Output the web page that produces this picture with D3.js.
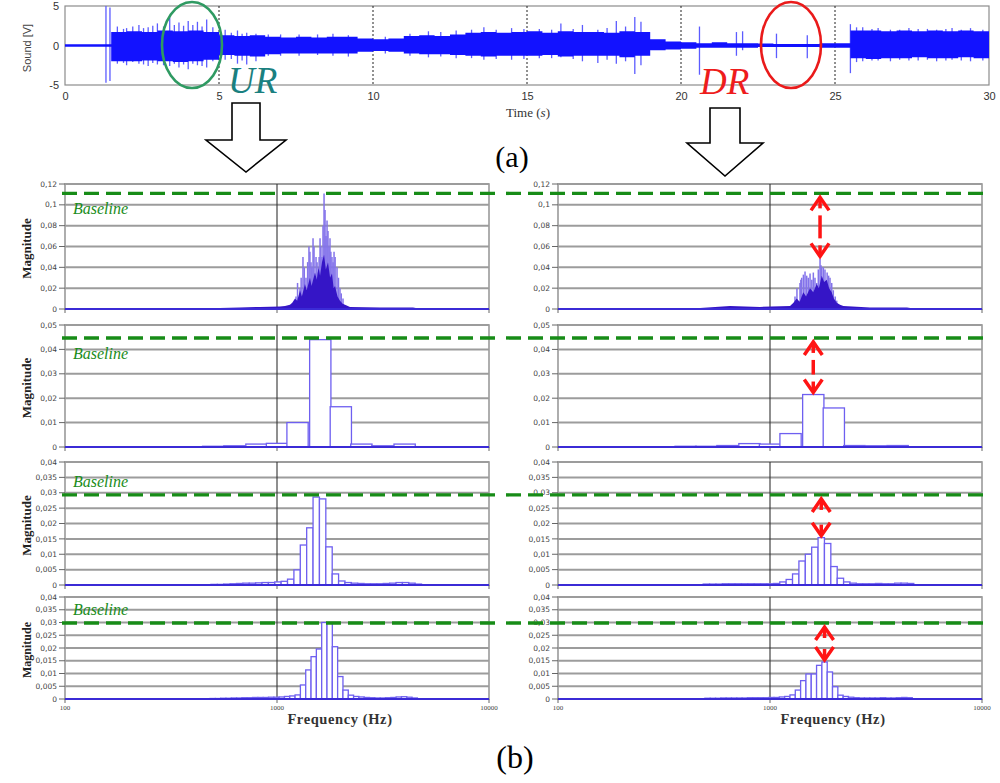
<!DOCTYPE html>
<html>
<head>
<meta charset="utf-8">
<script src="https://cdn.jsdelivr.net/npm/d3@7.9.0/dist/d3.min.js"></script>
<style>
  body { margin: 0; background: #fff; }
  svg { display: block; }
</style>
</head>
<body>
<svg id="fig" width="1000" height="783"></svg>
<script>
/* ---------- data ---------- */

// (a) sound signal: band envelope every 0.5 s, plus single spikes [t, up, down]
const waveT = [0,0.5,1,1.5,2,2.5,3,3.5,4,4.5,5,5.5,6,6.5,7,7.5,8,8.5,9,9.5,10,10.5,11,11.5,12,12.5,13,13.5,14,14.5,15,
  15.5,16,16.5,17,17.5,18,18.5,19,19.5,20,20.5,21,21.5,22,22.5,23,23.5,24,24.5,25,25.5,26,26.5,27,27.5,28,28.5,29,29.5,30];
const waveUp = [0.15,0.15,0.15,1.7,1.8,1.7,1.9,1.8,1.9,1.7,1.3,1.2,1.3,1.1,1.0,1.1,1.0,1.1,1.1,0.9,0.8,0.9,1.2,1.3,1.2,1.4,1.6,1.7,1.6,1.7,1.8,
  1.6,1.8,1.7,1.7,1.6,1.8,1.7,0.8,0.5,0.4,0.3,0.4,0.3,0.3,0.25,0.2,0.2,0.2,0.3,0.3,1.9,1.9,1.8,1.9,1.8,1.9,1.8,1.9,1.8,1.8];
const waveDown = [0.15,0.15,0.15,2.0,2.0,1.9,2.0,2.1,2.0,1.8,1.2,1.3,1.4,1.1,1.0,1.0,1.0,1.0,1.0,0.8,0.7,0.8,1.0,1.1,1.1,1.2,1.3,1.4,1.3,1.3,1.3,
  1.2,1.4,1.3,1.3,1.3,1.5,1.3,0.6,0.5,0.4,0.3,0.3,0.3,0.3,0.2,0.2,0.2,0.2,0.3,0.3,1.6,1.7,1.6,1.6,1.5,1.6,1.6,1.5,1.6,1.6];
const waveSpikes = [
  [1.33,5.0,4.7],[1.46,4.8,4.5],[1.7,2.4,2.3],[1.9,2.1,2.2],[2.0,2.2,2.5],[2.2,2.4,2.1],[2.4,2.6,2.3],[2.55,2.2,2.4],
  [2.7,2.3,2.6],[2.85,2.5,2.2],[3.0,2.8,2.4],[3.2,2.4,2.5],[3.4,3.5,2.6],[3.55,2.6,2.3],[3.7,2.9,2.8],[3.85,2.5,2.4],
  [4.0,3.1,3.0],[4.15,2.6,2.3],[4.3,3.0,2.5],[4.45,2.4,2.6],[4.6,3.3,2.8],[4.8,2.3,2.0],[5.2,2.0,1.8],[5.4,1.6,1.7],
  [5.6,1.9,2.3],[5.75,1.5,1.9],[5.9,1.6,2.4],[6.2,1.5,2.0],[6.6,1.4,1.3],[7.0,1.4,1.3],[7.6,1.4,1.3],[8.2,1.4,1.2],
  [8.7,1.5,1.3],[9.2,1.3,1.4],[10.4,1.1,1.0],[11.2,1.5,1.3],[11.8,1.8,1.5],[12.2,1.7,1.4],[12.7,1.9,1.6],[13.2,2.0,1.6],
  [13.6,2.3,1.8],[14.0,2.0,1.7],[14.5,2.2,1.8],[14.9,2.1,1.7],[15.4,2.1,1.6],[15.8,2.0,1.6],[16.1,2.8,1.5],[16.5,2.1,1.7],
  [16.8,2.6,2.0],[17.3,2.0,2.2],[17.6,2.2,1.8],[17.9,3.1,2.3],[18.2,2.4,2.0],[18.5,3.6,3.6],[18.7,3.0,2.5],[20.6,2.4,3.7],
  [21.8,1.7,1.3],[22.0,1.8,0.6],[23.1,1.5,1.6],[24.1,1.3,1.6],[25.5,2.7,3.5],[25.7,2.3,2.1],[25.9,2.3,2.0],[26.2,2.1,1.9],
  [26.4,2.2,1.9],[26.8,2.0,2.0],[27.1,2.0,1.8],[27.4,2.2,1.9],[27.7,2.1,1.9],[28.0,2.1,1.8],[28.3,2.0,2.0],[28.6,2.1,1.9],
  [28.8,2.2,1.8],[29.1,2.0,1.9],[29.4,2.2,2.0],[29.8,2.0,1.9]
];
const timeTicks = [0,5,10,15,20,25,30];
const soundTicks = [-5,0,5];

// (b) row 1: FFT spectra (Hz, magnitude)
const ur1SpikeF = [1229,1250,1284,1300,1326,1345,1370,1395,1415,1430,1447,1462,1479,1495,1528,1545,1561,1580,1596,1612,
  1631,1648,1667,1685,1703,1722,1740,1760,1778,1795,1817,1838,1858,1880,1919,1950,1982,2010,2048];
const ur1SpikeM = [0.012,0.025,0.02,0.03,0.05,0.04,0.03,0.045,0.06,0.055,0.045,0.04,0.068,0.06,0.05,0.045,0.035,0.05,0.068,0.06,
  0.05,0.08,0.111,0.095,0.07,0.085,0.075,0.06,0.068,0.055,0.05,0.045,0.055,0.05,0.04,0.03,0.02,0.015,0.01];
const ur1CoreF = [360,483,669,832,1033,1091,1151,1180,1216,1245,1284,1310,1355,1380,1431,1455,1511,1540,1570,1596,1630,1667,
  1700,1740,1780,1817,1850,1878,1930,1982,2040,2093,2210,3061,4380,4726];
const ur1CoreM = [0.0005,0.0008,0.0015,0.002,0.0025,0.003,0.004,0.006,0.01,0.008,0.018,0.012,0.024,0.018,0.03,0.022,0.035,0.028,
  0.04,0.032,0.045,0.052,0.038,0.045,0.03,0.034,0.02,0.022,0.012,0.008,0.005,0.004,0.002,0.0015,0.0015,0.0003];
const dr1SpikeF = [1312,1340,1385,1398,1411,1437,1463,1490,1516,1545,1575,1601,1630,1661,1690,1722,1740,1754,1785,1817,1860,
  1890,1919,1955,1989,2030,2064];
const dr1SpikeM = [0.012,0.02,0.025,0.028,0.03,0.033,0.036,0.032,0.03,0.034,0.028,0.035,0.03,0.025,0.038,0.0486,0.042,0.04,0.04,
  0.038,0.035,0.032,0.03,0.025,0.018,0.012,0.008];
const dr1CoreF = [244,468,648,897,1243,1290,1336,1380,1436,1480,1544,1600,1661,1700,1754,1800,1851,1900,1954,2000,2064,2140,
  2218,2963,4428,4831];
const dr1CoreM = [0.0005,0.001,0.003,0.002,0.003,0.006,0.01,0.007,0.016,0.012,0.02,0.016,0.024,0.02,0.032,0.026,0.028,0.02,
  0.016,0.01,0.006,0.004,0.003,0.0015,0.0015,0.0003];

// row 2: 1/3 octave bands (centre Hz, magnitude)
const ur2Centres = [500,630,800,1000,1250,1600,2000,2500,3150,4000];
const ur2Mag = [0.0003,0.0005,0.0012,0.0015,0.010,0.044,0.0165,0.0012,0.0005,0.0012];
const dr2Centres = [400,500,630,800,1000,1250,1600,2000,2500,3150,4000];
const dr2Mag = [0.0003,0.0003,0.0006,0.0014,0.0012,0.0055,0.0215,0.016,0.0006,0.0005,0.0006];

// row 3: 1/10 octave bands, from a first band edge (Hz)
const ur3FirstEdge = 488;
const ur3Mag = [0.0002,0.0002,0.0003,0.0004,0.0005,0.0006,0.0006,0.0007,0.0008,0.0008,0.001,0.0012,0.0019,0.0049,0.013,0.0186,
  0.0286,0.028,0.0124,0.0036,0.0013,0.0008,0.0006,0.0005,0.0004,0.0004,0.0004,0.0005,0.0006,0.0008,0.0008,0.0006,0.0003];
const dr3FirstEdge = 484;
const dr3Mag = [0.0003,0.0003,0.0003,0.0004,0.0004,0.0004,0.0004,0.0004,0.0004,0.0004,0.0004,0.0005,0.001,0.0018,0.0036,0.0078,
  0.0100,0.0123,0.0154,0.0135,0.006,0.0022,0.001,0.0006,0.0004,0.0004,0.0004,0.0005,0.0004,0.0004,0.0006,0.0006,0.0005];

// row 4: 1/12 octave bands
const ur4FirstEdge = 483;
const ur4Mag = [0.0002,0.0002,0.0003,0.0003,0.0004,0.0004,0.0005,0.0005,0.0006,0.0006,0.0006,0.0007,0.0007,0.0008,0.001,0.0012,
  0.0016,0.0055,0.0114,0.0166,0.0196,0.0300,0.0297,0.0205,0.0088,0.0035,0.0015,0.001,0.0008,0.0006,0.0005,0.0004,0.0004,
  0.0005,0.0006,0.0008,0.0009,0.0007,0.0004];
const dr4FirstEdge = 493;
const dr4Mag = [0.0003,0.0003,0.0003,0.0004,0.0004,0.0004,0.0004,0.0004,0.0005,0.0005,0.0005,0.0005,0.0006,0.0006,0.0008,0.001,
  0.0016,0.0035,0.0072,0.0098,0.0098,0.0132,0.0145,0.0106,0.0048,0.0015,0.001,0.0007,0.0005,0.0004,0.0004,0.0004,0.0004,
  0.0005,0.0004,0.0004,0.0005,0.0006,0.0005];

const rowMax = [0.12, 0.05, 0.04, 0.04];
const rowTicks = [
  [0,0.02,0.04,0.06,0.08,0.1,0.12],
  [0,0.01,0.02,0.03,0.04,0.05],
  [0,0.005,0.01,0.015,0.02,0.025,0.03,0.035,0.04],
  [0,0.005,0.01,0.015,0.02,0.025,0.03,0.035,0.04]
];
const baselineValues = [0.111, 0.0447, 0.0293, 0.0298];
const freqTicks = [100, 1000, 10000];

/* ---------- layout ---------- */
const svg = d3.select('#fig');
const serif = 'Liberation Serif, Times New Roman, serif';
const sans = 'Liberation Sans, Arial, sans-serif';
const small = 'DejaVu Sans, Verdana, sans-serif';

const rows = [
  {top: 184, bottom: 309},
  {top: 325, bottom: 447},
  {top: 462, bottom: 585},
  {top: 597, bottom: 699}
];
const cols = [{x0: 65, x1: 489}, {x0: 558, x1: 982}];

/* ---------- (a) sound signal ---------- */
const wx = d3.scaleLinear().domain([0, 30]).range([65, 989]);
const wy = d3.scaleLinear().domain([-5, 5]).range([85, 6]);
const gw = svg.append('g');

gw.append('rect')
  .attr('x', wx(0)).attr('y', wy(5))
  .attr('width', wx(30) - wx(0)).attr('height', wy(-5) - wy(5))
  .attr('fill', '#fff').attr('stroke', '#8c8c8c').attr('stroke-width', 1.2);

gw.selectAll('line.vgrid')
  .data(timeTicks.slice(1, -1))
  .join('line')
  .attr('class', 'vgrid')
  .attr('x1', d => wx(d)).attr('x2', d => wx(d))
  .attr('y1', wy(5)).attr('y2', wy(-5))
  .attr('stroke', '#222').attr('stroke-width', 1).attr('stroke-dasharray', '2,2');

// spikes under the band
gw.selectAll('line.spike')
  .data(waveSpikes)
  .join('line')
  .attr('class', 'spike')
  .attr('x1', d => wx(d[0])).attr('x2', d => wx(d[0]))
  .attr('y1', d => wy(d[1])).attr('y2', d => wy(-d[2]))
  .attr('stroke', '#5c5cff').attr('stroke-width', 1.3);

const band = d3.area()
  .curve(d3.curveStepAfter)
  .x((d, i) => wx(waveT[i]))
  .y0((d, i) => wy(-waveDown[i]))
  .y1((d, i) => wy(waveUp[i]));
gw.append('path').datum(waveUp).attr('d', band).attr('fill', '#1212ff');

const xa = gw.append('g').attr('transform', `translate(0,${wy(-5)})`)
  .call(d3.axisBottom(wx).tickValues(timeTicks).tickSize(0).tickPadding(7).tickFormat(d => String(d)));
const ya = gw.append('g').attr('transform', `translate(${wx(0)},0)`)
  .call(d3.axisLeft(wy).tickValues(soundTicks).tickSize(0).tickPadding(6).tickFormat(d => String(d)));
[xa, ya].forEach(a => {
  a.select('.domain').remove();
  a.selectAll('text').attr('font-family', sans).attr('font-size', 11).attr('fill', '#333');
});

gw.append('text')
  .attr('transform', 'translate(31,48) rotate(-90)')
  .attr('text-anchor', 'middle')
  .attr('font-family', sans).attr('font-size', 11).attr('fill', '#444')
  .text('Sound [V]');

const tl = gw.append('text').attr('x', 528).attr('y', 117).attr('text-anchor', 'middle')
  .attr('font-family', serif).attr('font-size', 13).attr('fill', '#333');
tl.append('tspan').text('Time (');
tl.append('tspan').attr('font-style', 'italic').text('s');
tl.append('tspan').text(')');

// highlighted regions
gw.append('ellipse').attr('cx', 192).attr('cy', 45).attr('rx', 30).attr('ry', 43)
  .attr('fill', 'none').attr('stroke', '#2f9a62').attr('stroke-width', 2.6);
gw.append('ellipse').attr('cx', 791).attr('cy', 45).attr('rx', 30).attr('ry', 43)
  .attr('fill', 'none').attr('stroke', '#ea1a1a').attr('stroke-width', 2.6);

svg.append('text').attr('x', 228).attr('y', 93)
  .attr('font-family', serif).attr('font-style', 'italic').attr('font-size', 37).attr('fill', '#1a8080')
  .text('UR');
svg.append('text').attr('x', 700).attr('y', 94)
  .attr('font-family', serif).attr('font-style', 'italic').attr('font-size', 37).attr('fill', '#ee1c1c')
  .text('DR');

// hollow block arrows
function blockArrow(c, top, shaftEnd, tip, sw, hw) {
  const p = d3.path();
  p.moveTo(c - sw, top); p.lineTo(c + sw, top); p.lineTo(c + sw, shaftEnd);
  p.lineTo(c + hw, shaftEnd); p.lineTo(c, tip); p.lineTo(c - hw, shaftEnd);
  p.lineTo(c - sw, shaftEnd); p.closePath();
  svg.append('path').attr('d', p.toString())
    .attr('fill', '#fff').attr('stroke', '#000').attr('stroke-width', 1.6);
}
blockArrow(246, 103, 140, 172, 14, 40);
blockArrow(725, 108, 143, 176, 15, 38);

svg.append('text').attr('x', 512).attr('y', 167).attr('text-anchor', 'middle')
  .attr('font-family', serif).attr('font-size', 30).attr('fill', '#000').text('(a)');
svg.append('text').attr('x', 515).attr('y', 768).attr('text-anchor', 'middle')
  .attr('font-family', serif).attr('font-size', 32).attr('fill', '#000').text('(b)');

/* ---------- (b) spectra ---------- */
function thirdOctaveBars(centres, mags) {
  return centres.map((c, i) => ({lo: c / Math.pow(2, 1 / 6), hi: c * Math.pow(2, 1 / 6), v: mags[i]}));
}
function fractionalBars(firstEdge, n, mags) {
  return mags.map((v, i) => ({lo: firstEdge * Math.pow(2, i / n), hi: firstEdge * Math.pow(2, (i + 1) / n), v: v}));
}

const panels = [
  {row: 0, col: 0, spikeF: ur1SpikeF, spikeM: ur1SpikeM, coreF: ur1CoreF, coreM: ur1CoreM},
  {row: 0, col: 1, spikeF: dr1SpikeF, spikeM: dr1SpikeM, coreF: dr1CoreF, coreM: dr1CoreM},
  {row: 1, col: 0, bars: thirdOctaveBars(ur2Centres, ur2Mag)},
  {row: 1, col: 1, bars: thirdOctaveBars(dr2Centres, dr2Mag)},
  {row: 2, col: 0, bars: fractionalBars(ur3FirstEdge, 10, ur3Mag)},
  {row: 2, col: 1, bars: fractionalBars(dr3FirstEdge, 10, dr3Mag)},
  {row: 3, col: 0, bars: fractionalBars(ur4FirstEdge, 12, ur4Mag)},
  {row: 3, col: 1, bars: fractionalBars(dr4FirstEdge, 12, dr4Mag)}
];

const fmtTick = d => d === 0 ? '0' : String(+d.toFixed(3)).replace('.', ',');

function redArrow(g, x, yTop, yBot) {
  const hw = 9, hh = 13;
  g.append('path')
    .attr('d', `M${x - hw},${yTop + hh} L${x},${yTop} L${x + hw},${yTop + hh}`)
    .attr('fill', 'none').attr('stroke', '#ff1414').attr('stroke-width', 3.5);
  g.append('path')
    .attr('d', `M${x - hw},${yBot - hh} L${x},${yBot} L${x + hw},${yBot - hh}`)
    .attr('fill', 'none').attr('stroke', '#ff1414').attr('stroke-width', 3.5);
  const s0 = yTop + hh + 5, s1 = yBot - hh - 5;
  if (s1 - s0 > 2) {
    g.append('line').attr('x1', x).attr('x2', x).attr('y1', s0).attr('y2', s1)
      .attr('stroke', '#ff1414').attr('stroke-width', 3.5);
  }
  g.append('line').attr('x1', x).attr('x2', x).attr('y1', yTop + 1).attr('y2', yTop + hh - 2)
    .attr('stroke', '#ff1414').attr('stroke-width', 3.5);
  g.append('line').attr('x1', x).attr('x2', x).attr('y1', yBot - hh + 2).attr('y2', yBot - 1)
    .attr('stroke', '#ff1414').attr('stroke-width', 3.5);
}

panels.forEach(p => {
  const r = rows[p.row], c = cols[p.col];
  const x = d3.scaleLog().domain([100, 10000]).range([c.x0, c.x1]);
  const y = d3.scaleLinear().domain([0, rowMax[p.row]]).range([r.bottom, r.top]);
  const g = svg.append('g');

  g.append('rect').attr('x', c.x0).attr('y', r.top)
    .attr('width', c.x1 - c.x0).attr('height', r.bottom - r.top)
    .attr('fill', '#fff').attr('stroke', '#9a9a9a').attr('stroke-width', 1.6);

  g.selectAll('line.grid')
    .data(rowTicks[p.row].slice(1))
    .join('line')
    .attr('class', 'grid')
    .attr('x1', c.x0).attr('x2', c.x1)
    .attr('y1', d => y(d)).attr('y2', d => y(d))
    .attr('stroke', '#9c9c9c').attr('stroke-width', 2);

  g.append('line').attr('x1', x(1000)).attr('x2', x(1000))
    .attr('y1', r.top).attr('y2', r.bottom)
    .attr('stroke', '#333').attr('stroke-width', 1.1);

  // y ticks
  g.selectAll('line.yt')
    .data(rowTicks[p.row])
    .join('line')
    .attr('class', 'yt')
    .attr('x1', c.x0 - 6).attr('x2', c.x0)
    .attr('y1', d => y(d)).attr('y2', d => y(d))
    .attr('stroke', '#666').attr('stroke-width', 1);
  g.selectAll('text.yl')
    .data(rowTicks[p.row])
    .join('text')
    .attr('class', 'yl')
    .attr('x', c.x0 - 8).attr('y', d => y(d)).attr('dy', '0.35em')
    .attr('text-anchor', 'end')
    .attr('font-family', small).attr('font-size', 7.5).attr('fill', '#444')
    .text(fmtTick);

  // x ticks
  g.selectAll('line.xt')
    .data(freqTicks)
    .join('line')
    .attr('class', 'xt')
    .attr('x1', d => x(d)).attr('x2', d => x(d))
    .attr('y1', r.bottom).attr('y2', r.bottom + 4)
    .attr('stroke', '#666').attr('stroke-width', 1);

  let peakX, peakV;
  if (p.bars) {
    g.selectAll('rect.bar')
      .data(p.bars)
      .join('rect')
      .attr('class', 'bar')
      .attr('x', d => x(d.lo)).attr('width', d => x(d.hi) - x(d.lo))
      .attr('y', d => y(d.v)).attr('height', d => y(0) - y(d.v))
      .attr('fill', '#fff').attr('stroke', '#6e5ff0').attr('stroke-width', 1.3);
    const top = p.bars.reduce((a, b) => (b.v > a.v ? b : a));
    peakX = x(Math.sqrt(top.lo * top.hi));
    peakV = top.v;
  } else {
    g.selectAll('line.spec')
      .data(p.spikeF)
      .join('line')
      .attr('class', 'spec')
      .attr('x1', d => x(d)).attr('x2', d => x(d))
      .attr('y1', y(0)).attr('y2', (d, i) => y(p.spikeM[i]))
      .attr('stroke', '#8373ea').attr('stroke-width', 1.5);
    const core = d3.area()
      .x((d, i) => x(p.coreF[i]))
      .y0(y(0))
      .y1((d, i) => y(p.coreM[i]));
    g.append('path').datum(p.coreF).attr('d', core).attr('fill', '#3515c6');
    const iMax = d3.maxIndex(p.spikeM);
    peakX = x(p.spikeF[iMax]);
    peakV = p.spikeM[iMax];
  }

  // zero line of the data
  g.append('line').attr('x1', c.x0).attr('x2', c.x1)
    .attr('y1', y(0)).attr('y2', y(0))
    .attr('stroke', '#3b2bd6').attr('stroke-width', 2);

  // baseline
  const by = y(baselineValues[p.row]);
  g.append('line')
    .attr('x1', p.col === 0 ? c.x0 - 3 : c.x0 - 52)
    .attr('x2', p.col === 0 ? c.x1 + 7 : c.x1 + 3)
    .attr('y1', by).attr('y2', by)
    .attr('stroke', '#178c17').attr('stroke-width', 3.4).attr('stroke-dasharray', '15,7');

  if (p.col === 0) {
    const above = p.row >= 2;
    g.append('text')
      .attr('x', c.x0 + 8).attr('y', above ? by - 8 : by + 21)
      .attr('font-family', serif).attr('font-style', 'italic').attr('font-size', 16)
      .attr('fill', '#1a8c1a')
      .text('Baseline');
    g.append('text')
      .attr('transform', `translate(31,${(r.top + r.bottom) / 2 + 2}) rotate(-90)`)
      .attr('text-anchor', 'middle')
      .attr('font-family', serif).attr('font-weight', 'bold')
      .attr('font-size', p.row === 3 ? 12 : 13).attr('fill', '#222')
      .text('Magnitude');
  } else {
    redArrow(g, peakX, by + 4, y(peakV) - 2);
  }

  if (p.row === 3) {
    g.selectAll('text.xl')
      .data(freqTicks)
      .join('text')
      .attr('class', 'xl')
      .attr('x', d => x(d)).attr('y', r.bottom + 11)
      .attr('text-anchor', 'middle')
      .attr('font-family', serif).attr('font-size', 7).attr('fill', '#444')
      .text(d => String(d));
    g.append('text')
      .attr('x', (c.x0 + c.x1) / 2 + 63).attr('y', r.bottom + 25)
      .attr('text-anchor', 'middle')
      .attr('font-family', serif).attr('font-weight', 'bold').attr('font-size', 14.5)
      .attr('letter-spacing', 0.6).attr('fill', '#333')
      .text('Frequency (Hz)');
  }
});
</script>
</body>
</html>
